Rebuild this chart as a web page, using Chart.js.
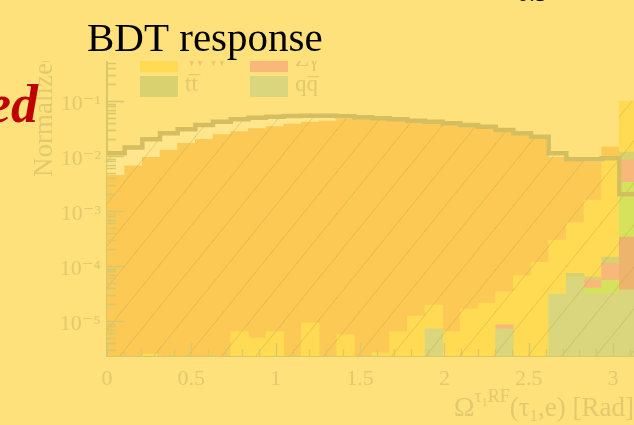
<!DOCTYPE html>
<html>
<head>
<meta charset="utf-8">
<script src="https://cdn.jsdelivr.net/npm/chart.js@4.4.1/dist/chart.umd.min.js"></script>
<style>
  html, body { margin: 0; padding: 0; background: #fee17b; overflow: hidden; }
  #wrap { position: relative; width: 660px; height: 425px; }
</style>
</head>
<body>
<div id="wrap"><canvas id="omega" width="660" height="425"></canvas></div>
<script>
// Omega^{tau1 RF}(tau1, e): 30 bins from 0 to pi, every sample normalised to unity
const nBins = 30;
const binW = Math.PI / nBins;

// background stack, bottom to top
const qqbar = [0, 0, 0, 0, 0, 0, 0, 0, 0, 0, 0, 0, 0, 0, 0,
  0, 0, 0, 7.2e-6, 0, 0, 0, 7.2e-6, 0, 0, 3.1e-5, 6.3e-5, 3.1e-5, 3.2e-5, 3.7e-5];
const zll = [0, 0, 0, 0, 0, 0, 0, 0, 0, 0, 0, 0, 0, 0, 0,
  0, 0, 0, 0, 0, 0, 0, 0, 0, 0, 0, 0, 0, 0, 3.0e-4];
const wjets = [0, 0, 0, 0, 0, 0, 0, 0, 0, 0, 0, 0, 0, 0, 0,
  0, 0, 0, 0, 0, 0, 0, 0, 0, 0, 0, 0, 8.8e-6, 2.3e-5, 3.0e-3];
const zgamma = [0, 0, 0, 0, 0, 0, 0, 0, 0, 0, 0, 0, 0, 0, 0,
  0, 0, 0, 0, 0, 0, 0, 1.3e-6, 0, 0, 0, 0, 1.6e-5, 5.7e-5, 5.1e-3];
const ttbar = [0, 0, 0, 0, 0, 0, 0, 0, 0, 0, 0, 0, 0, 0, 0,
  0, 0, 0, 0, 0, 0, 0, 0, 0, 0, 0, 1.06e-5, 7.5e-6, 3.3e-5, 3.3e-3];
const ww = [0, 0, 2.5e-6, 0, 0, 0, 0, 6.4e-6, 4.9e-6, 6.4e-6, 0, 9.2e-6, 0, 5.6e-6, 0,
  2.65e-6, 6.4e-6, 1.23e-5, 1.23e-5, 6.4e-6, 1.65e-5, 2.12e-5, 2.56e-5, 6.67e-5, 1.17e-4,
  2.66e-4, 5.39e-4, 1.52e-3, 8.67e-3, 8.82e-2];
const ztautau = [4.51e-3, 6.66e-3, 9.47e-3, 1.285e-2, 1.70e-2, 2.01e-2, 2.44e-2, 2.77e-2,
  3.14e-2, 3.41e-2, 3.82e-2, 4.15e-2, 4.38e-2, 4.65e-2, 4.71e-2, 4.51e-2, 4.38e-2, 4.20e-2,
  3.93e-2, 3.66e-2, 3.41e-2, 3.19e-2, 2.88e-2, 2.40e-2, 2.03e-2, 9.17e-3, 7.27e-3, 6.2e-3,
  5.8e-3, 0];

// signal, drawn as an outline over the stack
const signal = [1.12e-2, 1.42e-2, 2.01e-2, 2.59e-2, 3.06e-2, 3.66e-2, 4.20e-2, 4.65e-2,
  4.97e-2, 5.18e-2, 5.34e-2, 5.41e-2, 5.41e-2, 5.27e-2, 5.07e-2, 4.85e-2, 4.65e-2, 4.38e-2,
  4.20e-2, 3.93e-2, 3.66e-2, 3.41e-2, 2.97e-2, 2.59e-2, 2.24e-2, 1.12e-2, 8.71e-3, 8.71e-3,
  9.08e-3, 2.01e-3];

const yDecades = [1e-5, 1e-4, 1e-3, 1e-2, 1e-1];
const yTickLabels = ['10\u207B\u2075', '10\u207B\u2074', '10\u207B\u00B3', '10\u207B\u00B2', '10\u207B\u00B9'];
const xTickValues = [0, 0.5, 1, 1.5, 2, 2.5, 3];
const xTickLabels = ['0', '0.5', '1', '1.5', '2', '2.5', '3'];

const yMin = 2.31e-6;
const yMax = 1;

const faded = '#e2c96e';
const axisCol = '#d8c86c';
const serif = '"Liberation Serif", "DejaVu Serif", serif';
const frameTop = 61;   // the figure is cut off above this line

// minor tick positions: 1..9 x each decade, 0.1 steps along x
const yMinorTicks = [];
for (let e = -6; e <= 0; e++) {
  for (let m = 1; m <= 9; m++) {
    const v = m * Math.pow(10, e);
    if (v >= yMin && v <= yMax) yMinorTicks.push(v);
  }
}
const xMinorTicks = [];
for (let k = 0; k <= 31; k++) xMinorTicks.push(k / 10);

const isDecade = v => yDecades.findIndex(d => Math.abs(d - v) / d < 1e-6);
const isXLabel = v => xTickValues.findIndex(d => Math.abs(d - v) < 1e-6);

const centres = arr => arr.map((v, i) => ({ x: (i + 0.5) * binW, y: v || null }));
const edges = arr => arr.map((v, i) => ({ x: i * binW, y: v })).concat([{ x: Math.PI, y: arr[arr.length - 1] }]);

const stackTotal = ztautau.map((v, i) => v + ww[i] + ttbar[i] + zgamma[i] + wjets[i] + zll[i] + qqbar[i]);
const band = stackTotal.map((v, i) => Math.max(v, signal[i]));

function hatch() {
  const c = document.createElement('canvas');
  c.width = 34; c.height = 42;
  const g = c.getContext('2d');
  g.strokeStyle = 'rgba(190,160,70,0.4)';
  g.lineWidth = 1;
  for (let k = -1; k <= 1; k++) {
    g.beginPath();
    g.moveTo(k * 34, 42);
    g.lineTo(k * 34 + 34, 0);
    g.stroke();
  }
  return g.createPattern(c, 'repeat');
}

const stackBar = (label, data, color) => ({
  type: 'bar', label, data: centres(data), backgroundColor: color,
  borderWidth: 0, stack: 'bkg', order: 5,
  barPercentage: 1, categoryPercentage: 1
});

const datasets = [
  stackBar('qq\u0305', qqbar, '#d9d67e'),
  stackBar('Z\u2192\u2113\u2113', zll, '#edb46d'),
  stackBar('W+jets', wjets, '#d6e25b'),
  stackBar('Z\u03B3', zgamma, '#f8b87a'),
  stackBar('tt\u0305', ttbar, '#d9d070'),
  stackBar('WW', ww, '#fedb52'),
  stackBar('Z\u2192\u03C4\u03C4', ztautau, '#fdc955'),
  {
    type: 'bar', label: 'uncertainty', data: centres(band), backgroundColor: hatch(),
    borderWidth: 0, stack: 'band', grouped: false, order: 3,
    barPercentage: 1, categoryPercentage: 1
  },
  {
    type: 'line', label: 'signal fill', data: edges(signal), stepped: true,
    fill: 'start', backgroundColor: '#ffe68d', borderWidth: 0, pointRadius: 0, order: 10
  },
  {
    type: 'line', label: 'signal', data: edges(signal), stepped: true,
    fill: false, borderColor: '#d5be5f', borderWidth: 4.5, pointRadius: 0, order: 1
  }
];

// legend rows as laid out in the frame: [label, column, row]
const legendItems = [['WW', 0, 0], ['Z\u03B3', 1, 0], ['tt\u0305', 0, 1], ['qq\u0305', 1, 1]];

function drawRich(ctx, parts, xRight, base) {
  let w = 0;
  parts.forEach(p => { ctx.font = p.size + 'px ' + serif; w += ctx.measureText(p.t).width; });
  let x = xRight - w;
  parts.forEach(p => {
    ctx.font = p.size + 'px ' + serif;
    ctx.fillText(p.t, x, base + (p.dy || 0));
    x += ctx.measureText(p.t).width;
  });
}

const frame = {
  id: 'frame',
  beforeDraw(chart) {
    const ctx = chart.ctx;
    ctx.save();
    ctx.beginPath();
    ctx.rect(0, frameTop, chart.width, chart.height - frameTop);
    ctx.clip();
  },
  afterDatasetsDraw(chart) {
    // ROOT style ticks, pointing into the frame
    const { ctx, chartArea: a, scales: { x, y } } = chart;
    ctx.save();
    ctx.strokeStyle = axisCol;
    ctx.lineWidth = 1.3;
    ctx.beginPath();
    yMinorTicks.forEach(v => {
      const py = Math.round(y.getPixelForValue(v)) + 0.5;
      const len = isDecade(v) >= 0 ? 17 : 9;
      ctx.moveTo(a.left, py);
      ctx.lineTo(a.left + len, py);
    });
    xMinorTicks.forEach(v => {
      const px = Math.round(x.getPixelForValue(v)) + 0.5;
      const len = isXLabel(v) >= 0 ? 13 : 7;
      ctx.moveTo(px, a.bottom);
      ctx.lineTo(px, a.bottom - len);
    });
    ctx.stroke();
    ctx.restore();
  },
  afterDraw(chart) {
    const ctx = chart.ctx;
    // legend boxes
    const colX = [140, 250];
    const rowY = [51, 76];
    legendItems.forEach(([label, c, r]) => {
      const ds = chart.data.datasets.find(d => d.label === label);
      ctx.fillStyle = ds.backgroundColor;
      ctx.fillRect(colX[c], rowY[r], 38, 21);
      ctx.fillStyle = faded;
      ctx.font = '23px ' + serif;
      ctx.textAlign = 'left';
      ctx.textBaseline = 'alphabetic';
      ctx.fillText(label, colX[c] + 45, rowY[r] + 15);
    });
    // y axis title
    ctx.save();
    ctx.translate(52, 177);
    ctx.rotate(-Math.PI / 2);
    ctx.fillStyle = faded;
    ctx.font = '27px ' + serif;
    ctx.textAlign = 'left';
    ctx.fillText('Normalized to unity', 0, 0);
    ctx.restore();
    ctx.restore();

    // x axis title
    ctx.fillStyle = faded;
    ctx.textAlign = 'left';
    ctx.textBaseline = 'alphabetic';
    drawRich(ctx, [
      { t: '\u03A9', size: 28 },
      { t: '\u03C4', size: 18, dy: -14 },
      { t: '1', size: 12, dy: -10 },
      { t: 'RF', size: 18, dy: -14 },
      { t: '(\u03C4', size: 27 },
      { t: '1', size: 17, dy: 5 },
      { t: ',e) [Rad]', size: 27 }
    ], 634, 416);

    // slide text around the figure
    ctx.fillStyle = '#000';
    ctx.font = '41px ' + serif;
    ctx.fillText('BDT response', 87, 51);
    ctx.font = '24px ' + serif;
    ctx.fillText('0.5', 517, 1);
    ctx.fillStyle = '#c00000';
    ctx.font = 'italic bold 54px ' + serif;
    ctx.textAlign = 'right';
    ctx.fillText('ed', 38, 122);
  }
};

new Chart(document.getElementById('omega'), {
  type: 'bar',
  data: { datasets },
  options: {
    responsive: false,
    animation: false,
    layout: { padding: { left: 0, right: 23, top: 46, bottom: 0 } },
    plugins: { legend: { display: false }, tooltip: { enabled: false } },
    scales: {
      x: {
        type: 'linear', min: 0, max: Math.PI, offset: false, z: 1,
        afterBuildTicks: s => { s.ticks = xTickValues.map(v => ({ value: v })); },
        afterFit: s => { s.height = 69; },
        grid: { display: false, drawTicks: false },
        border: { display: true, color: axisCol, width: 2 },
        ticks: {
          autoSkip: false, maxRotation: 0, padding: 10, color: faded,
          font: { family: serif, size: 22 },
          callback: v => { const i = isXLabel(v); return i >= 0 ? xTickLabels[i] : ''; }
        }
      },
      y: {
        type: 'logarithmic', min: yMin, max: yMax, z: 1,
        afterBuildTicks: s => { s.ticks = yMinorTicks.map(v => ({ value: v })); },
        afterFit: s => { s.width = 107; },
        grid: { display: false, drawTicks: false },
        border: { display: true, color: axisCol, width: 2 },
        ticks: {
          autoSkip: false, padding: 6, labelOffset: 3, color: faded,
          font: { family: serif, size: 22 },
          callback: v => { const i = isDecade(v); return i >= 0 ? yTickLabels[i] : ''; }
        }
      }
    }
  },
  plugins: [frame]
});
</script>
</body>
</html>
